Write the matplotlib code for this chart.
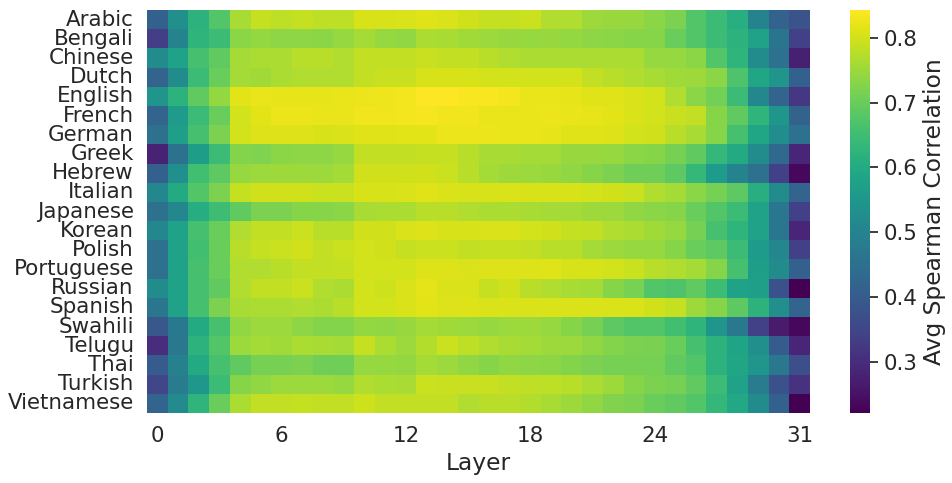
import numpy as np
import pandas as pd
import matplotlib
matplotlib.use("Agg")
import matplotlib.pyplot as plt
import seaborn as sns

languages = ["Arabic", "Bengali", "Chinese", "Dutch", "English", "French", "German",
             "Greek", "Hebrew", "Italian", "Japanese", "Korean", "Polish", "Portuguese",
             "Russian", "Spanish", "Swahili", "Telugu", "Thai", "Turkish", "Vietnamese"]
layers = list(range(32))
xtick_layers = [0, 6, 12, 18, 24, 31]

arabic = [0.41,0.53,0.62,0.675,0.762,0.788,0.78,0.788,0.78,0.78,0.805,0.805,0.808,0.812,0.808,0.798,0.788,0.788,0.792,0.77,0.77,0.752,0.748,0.748,0.735,0.72,0.675,0.645,0.61,0.50,0.415,0.38]
bengali = [0.335,0.50,0.625,0.645,0.735,0.742,0.738,0.738,0.735,0.745,0.76,0.745,0.74,0.765,0.762,0.755,0.75,0.748,0.745,0.748,0.742,0.738,0.735,0.73,0.73,0.70,0.675,0.645,0.62,0.58,0.46,0.34]
chinese = [0.52,0.58,0.66,0.69,0.76,0.765,0.765,0.777,0.775,0.77,0.785,0.785,0.785,0.79,0.785,0.785,0.777,0.77,0.765,0.765,0.765,0.765,0.765,0.765,0.745,0.745,0.735,0.675,0.625,0.52,0.455,0.275]
dutch = [0.42,0.52,0.645,0.70,0.76,0.755,0.765,0.77,0.77,0.77,0.785,0.79,0.79,0.805,0.805,0.805,0.80,0.80,0.80,0.80,0.80,0.785,0.775,0.77,0.762,0.755,0.752,0.735,0.67,0.59,0.545,0.41]
english = [0.545,0.62,0.69,0.742,0.815,0.822,0.82,0.82,0.82,0.822,0.825,0.828,0.832,0.843,0.843,0.837,0.837,0.833,0.822,0.822,0.82,0.813,0.812,0.808,0.80,0.77,0.735,0.71,0.645,0.51,0.42,0.32]
french = [0.42,0.56,0.645,0.70,0.80,0.815,0.825,0.825,0.822,0.822,0.83,0.83,0.832,0.835,0.83,0.83,0.822,0.822,0.822,0.825,0.822,0.82,0.815,0.808,0.80,0.79,0.785,0.73,0.69,0.625,0.545,0.415]
german = [0.45,0.57,0.66,0.72,0.80,0.81,0.81,0.81,0.805,0.808,0.812,0.812,0.815,0.815,0.825,0.825,0.825,0.822,0.822,0.82,0.812,0.812,0.81,0.80,0.798,0.777,0.762,0.73,0.66,0.59,0.525,0.45]
greek = [0.28,0.455,0.565,0.645,0.728,0.722,0.735,0.738,0.738,0.745,0.785,0.785,0.785,0.788,0.788,0.777,0.762,0.762,0.758,0.758,0.748,0.748,0.745,0.735,0.73,0.712,0.69,0.635,0.60,0.52,0.43,0.285]
hebrew = [0.41,0.53,0.655,0.688,0.745,0.75,0.752,0.752,0.75,0.758,0.798,0.798,0.798,0.798,0.792,0.775,0.758,0.752,0.75,0.748,0.74,0.73,0.72,0.705,0.705,0.688,0.635,0.56,0.50,0.45,0.34,0.235]
italian = [0.51,0.60,0.675,0.72,0.788,0.798,0.798,0.798,0.792,0.792,0.805,0.805,0.808,0.812,0.808,0.805,0.805,0.808,0.805,0.805,0.805,0.80,0.798,0.792,0.77,0.758,0.735,0.712,0.688,0.61,0.52,0.42]
japanese = [0.45,0.51,0.605,0.65,0.69,0.72,0.72,0.73,0.73,0.735,0.762,0.765,0.765,0.777,0.775,0.77,0.765,0.765,0.762,0.758,0.758,0.752,0.75,0.74,0.735,0.73,0.70,0.675,0.645,0.58,0.465,0.34]
korean = [0.51,0.58,0.66,0.70,0.77,0.785,0.785,0.792,0.777,0.777,0.798,0.798,0.808,0.81,0.805,0.805,0.808,0.808,0.80,0.798,0.788,0.785,0.77,0.765,0.755,0.745,0.712,0.66,0.625,0.58,0.465,0.285]
polish = [0.45,0.58,0.655,0.70,0.777,0.788,0.792,0.798,0.785,0.792,0.80,0.798,0.788,0.792,0.792,0.785,0.788,0.788,0.785,0.777,0.777,0.758,0.75,0.745,0.745,0.73,0.70,0.688,0.645,0.56,0.51,0.34]
portuguese = [0.45,0.58,0.66,0.70,0.77,0.77,0.777,0.785,0.785,0.788,0.80,0.80,0.80,0.81,0.81,0.808,0.81,0.81,0.81,0.812,0.805,0.805,0.80,0.792,0.777,0.77,0.758,0.73,0.66,0.565,0.52,0.41]
russian = [0.52,0.58,0.66,0.69,0.77,0.785,0.785,0.792,0.77,0.765,0.80,0.795,0.808,0.818,0.808,0.808,0.788,0.798,0.777,0.77,0.762,0.758,0.73,0.715,0.675,0.67,0.69,0.65,0.58,0.57,0.375,0.221]
spanish = [0.465,0.58,0.66,0.72,0.762,0.765,0.765,0.77,0.765,0.775,0.80,0.80,0.808,0.815,0.81,0.81,0.808,0.808,0.808,0.808,0.808,0.808,0.808,0.808,0.798,0.788,0.752,0.73,0.688,0.62,0.53,0.42]
swahili = [0.39,0.47,0.60,0.66,0.74,0.75,0.75,0.738,0.728,0.728,0.742,0.74,0.748,0.758,0.755,0.75,0.745,0.75,0.752,0.745,0.73,0.712,0.688,0.675,0.675,0.655,0.625,0.545,0.47,0.34,0.265,0.235]
telugu = [0.30,0.47,0.62,0.675,0.75,0.758,0.755,0.765,0.762,0.758,0.788,0.765,0.75,0.772,0.792,0.782,0.77,0.762,0.758,0.752,0.75,0.74,0.728,0.72,0.718,0.70,0.66,0.62,0.585,0.53,0.40,0.285]
thai = [0.40,0.49,0.60,0.66,0.69,0.712,0.712,0.72,0.705,0.705,0.745,0.745,0.742,0.758,0.75,0.74,0.73,0.74,0.738,0.735,0.728,0.72,0.712,0.712,0.712,0.69,0.675,0.62,0.59,0.545,0.47,0.37]
turkish = [0.35,0.48,0.55,0.645,0.73,0.74,0.75,0.75,0.75,0.745,0.77,0.765,0.762,0.792,0.79,0.79,0.79,0.785,0.782,0.782,0.777,0.765,0.752,0.73,0.72,0.712,0.69,0.645,0.58,0.48,0.375,0.31]
vietnamese = [0.42,0.515,0.625,0.70,0.765,0.785,0.785,0.788,0.787,0.787,0.795,0.785,0.785,0.787,0.787,0.77,0.775,0.777,0.772,0.762,0.752,0.74,0.725,0.72,0.70,0.69,0.675,0.635,0.595,0.52,0.41,0.222]

rows = [arabic, bengali, chinese, dutch, english, french, german, greek, hebrew,
        italian, japanese, korean, polish, portuguese, russian, spanish, swahili,
        telugu, thai, turkish, vietnamese]

df = pd.DataFrame(rows, index=languages, columns=layers)

sns.set_theme(style="white", font_scale=1.4)

fig = plt.figure(figsize=(9.52, 4.83), dpi=100)
ax = fig.add_axes([147/952, 1 - 413/483, 663/952, 403/483])
cax = fig.add_axes([850/952, 1 - 413/483, 20/952, 403/483])

sns.heatmap(df, ax=ax, cbar_ax=cax, cmap="viridis",
            xticklabels=True, yticklabels=True,
            cbar_kws={"label": "Avg Spearman Correlation"})

ax.set_xticks([l + 0.5 for l in xtick_layers])
ax.set_xticklabels([str(l) for l in xtick_layers], rotation=0)
ax.set_yticks([i + 0.5 for i in range(len(languages))])
ax.set_yticklabels(languages, rotation=0)
ax.set_xlabel("Layer")
ax.set_ylabel("")

fig.savefig("out.png", dpi=100)
